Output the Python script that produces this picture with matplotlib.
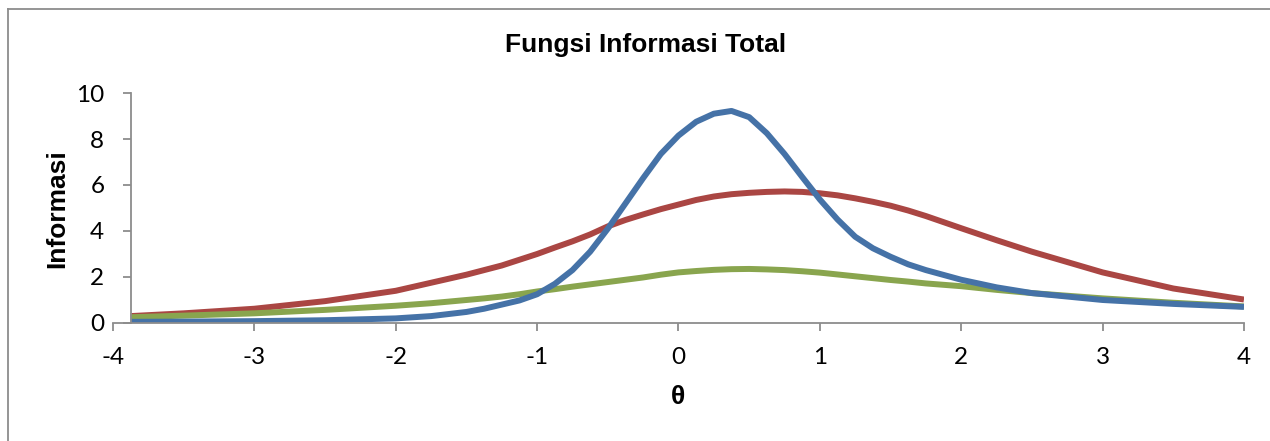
import matplotlib.pyplot as plt
import numpy as np

plt.rcParams['axes.unicode_minus'] = False

# nilai
theta = [-3.875, -3.5, -3.0, -2.5, -2.0, -1.75, -1.5, -1.375, -1.25, -1.125,
         -1.0, -0.875, -0.75, -0.625, -0.5, -0.375, -0.25, -0.125, 0.0, 0.125,
         0.25, 0.375, 0.5, 0.625, 0.75, 0.875, 1.0, 1.125, 1.25, 1.375,
         1.5, 1.625, 1.75, 2.0, 2.25, 2.5, 3.0, 3.5, 4.0]
biru = [0.05, 0.06, 0.08, 0.12, 0.2, 0.3, 0.48, 0.62, 0.8, 0.98,
        1.25, 1.7, 2.3, 3.1, 4.1, 5.2, 6.3, 7.35, 8.15, 8.75,
        9.1, 9.22, 8.95, 8.25, 7.35, 6.35, 5.37, 4.5, 3.75, 3.25,
        2.88, 2.55, 2.3, 1.88, 1.55, 1.3, 1.0, 0.83, 0.7]
merah = [0.3, 0.42, 0.62, 0.95, 1.4, 1.75, 2.1, 2.3, 2.5, 2.75,
         3.0, 3.28, 3.55, 3.85, 4.2, 4.48, 4.72, 4.95, 5.15, 5.35,
         5.5, 5.6, 5.66, 5.7, 5.72, 5.7, 5.64, 5.55, 5.42, 5.27,
         5.1, 4.89, 4.65, 4.12, 3.6, 3.1, 2.2, 1.5, 1.02]
hijau = [0.25, 0.32, 0.42, 0.57, 0.75, 0.86, 1.0, 1.07, 1.15, 1.25,
         1.37, 1.47, 1.58, 1.68, 1.78, 1.88, 1.98, 2.1, 2.2, 2.26,
         2.31, 2.34, 2.35, 2.33, 2.3, 2.25, 2.19, 2.11, 2.03, 1.95,
         1.87, 1.8, 1.72, 1.6, 1.44, 1.3, 1.07, 0.88, 0.72]

fig = plt.figure(figsize=(12.7, 4.41), dpi=100)
ax = fig.add_axes([0.089, 0.2676, 0.8905, 0.5215])

for y, warna in [(merah, '#AA4643'), (hijau, '#89A54E'), (biru, '#4572A7')]:
    ax.plot(theta, y, color=warna, lw=4.3, solid_capstyle='butt',
            solid_joinstyle='round')

ax.set_xlim(-4, 4)
ax.set_ylim(0, 10)
ax.set_xticks(np.arange(-4, 5, 1))
ax.set_yticks(np.arange(0, 11, 2))

ax.spines['top'].set_visible(False)
ax.spines['right'].set_visible(False)
ax.spines['left'].set_position(('data', -3.875))
ax.spines['left'].set_color('#8c8c8c')
ax.spines['bottom'].set_color('#8c8c8c')
ax.spines['left'].set_linewidth(1.3)
ax.spines['bottom'].set_linewidth(1.3)
ax.tick_params(direction='out', length=6, width=1.3, color='#8c8c8c',
               labelsize=17.5, pad=11)
for lbl in ax.get_xticklabels() + ax.get_yticklabels():
    lbl.set_family('Lato')
ax.tick_params(axis='y', pad=13)

fig.text(0.508, 0.898, 'Fungsi Informasi Total', ha='center', va='center',
         fontsize=19, fontweight='bold', family='Liberation Sans')
fig.text(0.045, 0.528, 'Informasi', ha='center', va='center', rotation=90,
         fontsize=19, fontweight='bold', family='Liberation Sans')
fig.text(0.534, 0.099, 'θ', ha='center', va='center',
         fontsize=19, fontweight='bold', family='Liberation Sans')

# bingkai grafik
fig.add_artist(plt.Line2D([8 / 1270, 8 / 1270], [0, 1 - 9 / 441],
                          transform=fig.transFigure, color='#8c8c8c', lw=1.3))
fig.add_artist(plt.Line2D([8 / 1270, 1], [1 - 9 / 441, 1 - 9 / 441],
                          transform=fig.transFigure, color='#8c8c8c', lw=1.3))

fig.savefig('out.png', dpi=100)
